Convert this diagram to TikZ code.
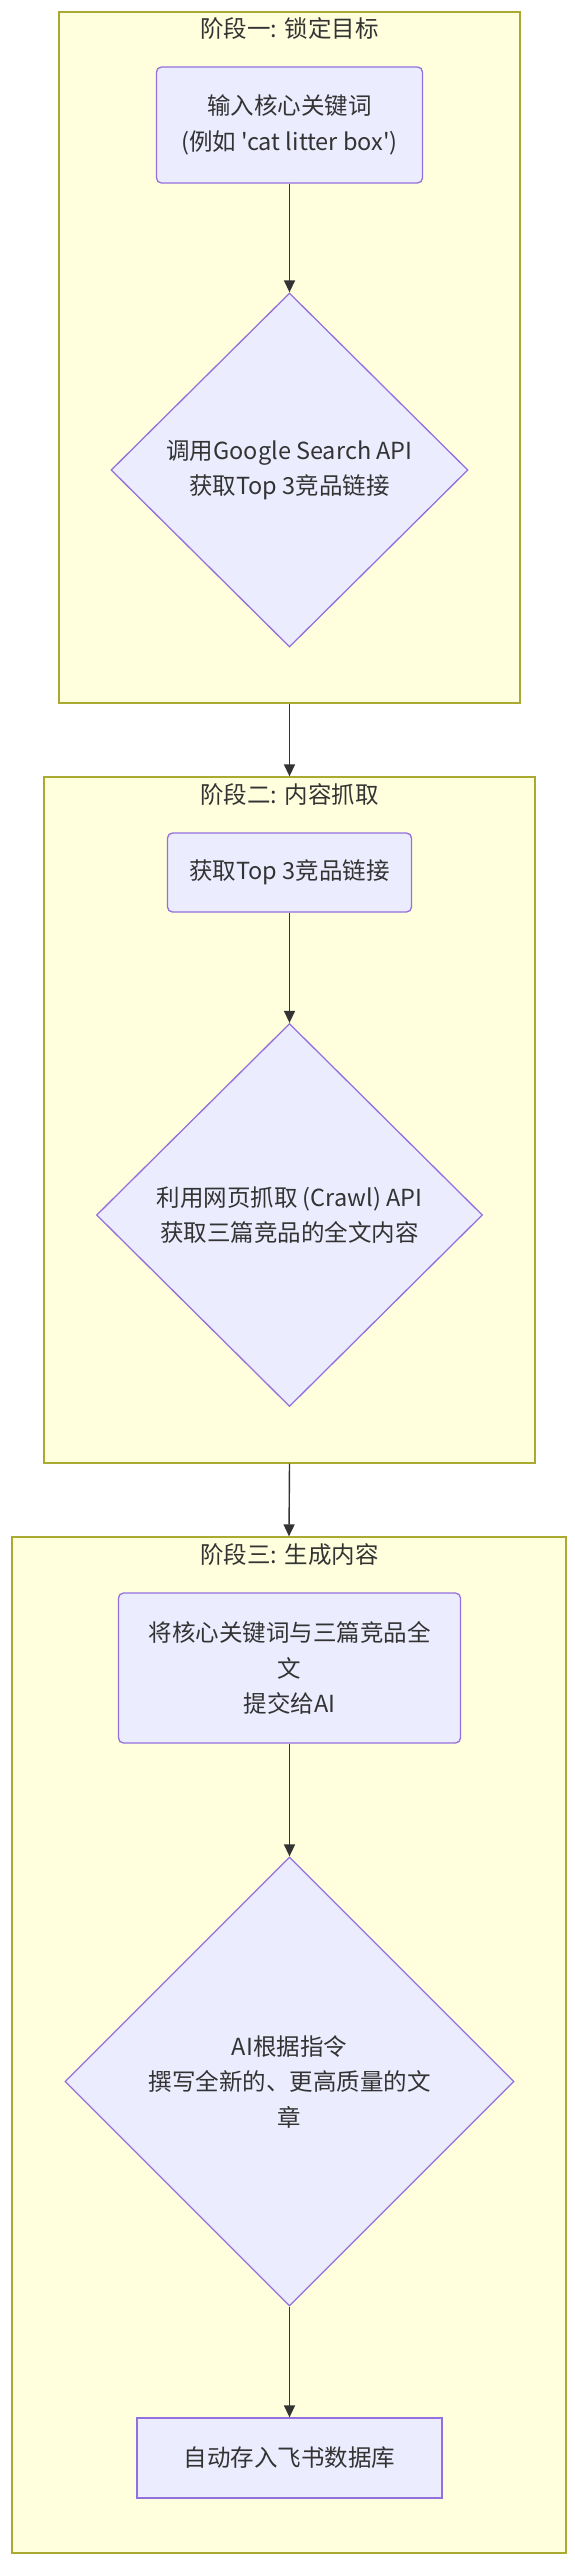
\documentclass[tikz,border=0pt]{standalone}
\usepackage{fontspec}
\setmainfont{Noto Sans CJK SC}[Ligatures=TeXOff]
\usetikzlibrary{shapes.geometric,arrows.meta}
\definecolor{clfill}{HTML}{FFFFDE}
\definecolor{cldraw}{HTML}{AAAA33}
\definecolor{ndfill}{HTML}{ECECFF}
\definecolor{nddraw}{HTML}{9370DB}
\definecolor{ink}{HTML}{333333}
\begin{document}
\begin{tikzpicture}[x=1pt,y=-1pt,
  txt/.style={font=\fontsize{23.5}{35.5}\selectfont, text=ink, align=center},
  cluster/.style={draw=cldraw, fill=clfill, line width=1.3pt, inner sep=0pt, rectangle},
  procbox/.style={txt, draw=nddraw, fill=ndfill, line width=1.3pt, rounded corners=5pt, inner sep=0pt},
  plainbox/.style={txt, draw=nddraw, fill=ndfill, line width=1.3pt, inner sep=0pt},
  decide/.style={txt, diamond, aspect=1, draw=nddraw, fill=ndfill, line width=1.3pt, inner sep=0pt},
  flow/.style={draw=ink, line width=1.4pt, -{Triangle[length=12pt,width=11pt]}},
]
\useasboundingbox (0,0) rectangle (575,2560);
% clusters
\node[cluster, minimum width=461pt, minimum height=691pt] (c1) at (289.5,357.5) {};
\node[cluster, minimum width=491pt, minimum height=686pt] (c2) at (289.5,1120) {};
\node[cluster, minimum width=554pt, minimum height=1016pt] (c3) at (289,2045) {};
\node[txt] (t1) at (289.5,29) {阶段一: 锁定目标};
\node[txt] (t2) at (289.5,795) {阶段二: 内容抓取};
\node[txt] (t3) at (289.5,1555) {阶段三: 生成内容};
% stage 1
\node[procbox, minimum width=266pt, minimum height=116pt] (b1) at (289.5,125) {输入核心关键词\\(例如 'cat litter box')};
\node[decide, minimum width=357pt, minimum height=354pt] (d1) at (289.5,470) {调用Google Search API\\获取Top 3竞品链接};
% stage 2
\node[procbox, minimum width=244pt, minimum height=79pt] (b2) at (289.5,872.5) {获取Top 3竞品链接};
\node[decide, minimum width=386pt, minimum height=383pt] (d2) at (289.5,1215) {利用网页抓取 (Crawl) API\\获取三篇竞品的全文内容};
% stage 3
\node[procbox, minimum width=342pt, minimum height=150pt] (b3) at (289.5,1668) {将核心关键词与三篇竞品全\\文\\提交给AI};
\node[decide, minimum width=449pt, minimum height=449pt] (d3) at (289.5,2081.5) {AI根据指令\\撰写全新的、更高质量的文\\章};
\node[plainbox, minimum width=305pt, minimum height=80pt] (b4) at (289.5,2458) {自动存入飞书数据库};
% connectors
\draw[flow] (b1.south) -- (d1.north);
\draw[flow] (c1.south) -- (c2.north);
\draw[flow] (b2.south) -- (d2.north);
\draw[flow] (c2.south) -- (c3.north);
\draw[flow] (b3.south) -- (d3.north);
\draw[flow] (d3.south) -- (b4.north);
\end{tikzpicture}
\end{document}
